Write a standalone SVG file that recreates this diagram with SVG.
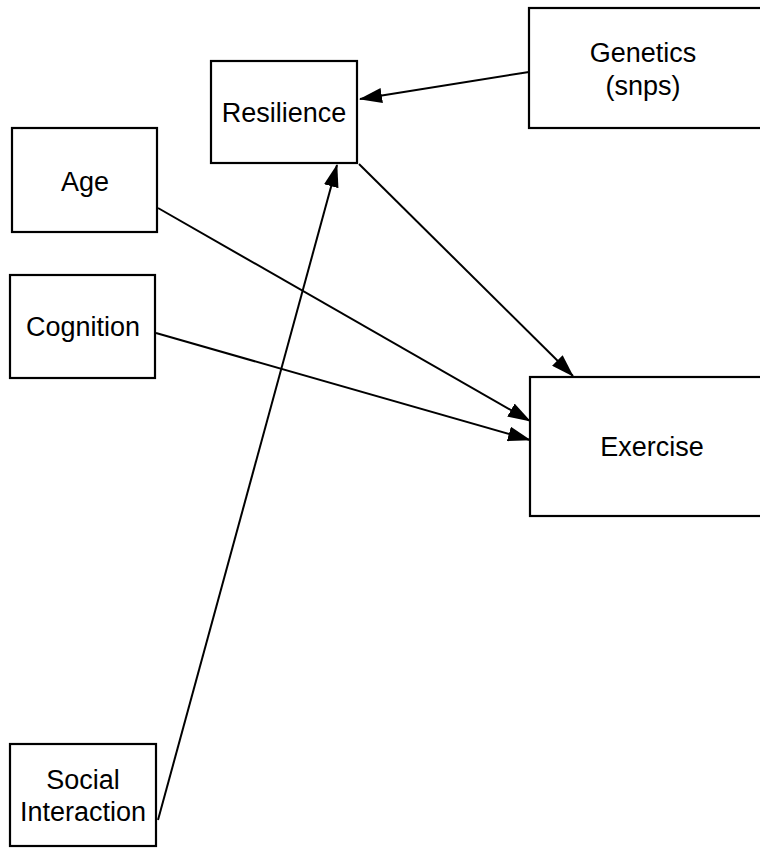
<svg xmlns="http://www.w3.org/2000/svg" width="760" height="850" viewBox="0 0 760 850">
<style>
.box{fill:#fff;stroke:#000;stroke-width:2.2}
.lbl{font-family:"Liberation Sans",Arial,sans-serif;font-size:27px;fill:#000;text-anchor:middle;dominant-baseline:central}
.edge{stroke:#000;stroke-width:2;fill:none;marker-end:url(#ah)}
</style>
<defs>
<marker id="ah" markerUnits="userSpaceOnUse" markerWidth="23" markerHeight="15" refX="22" refY="7.5" orient="auto">
<path d="M0,0 L23,7.5 L0,15 z" fill="#000"/>
</marker>
</defs>
<rect width="760" height="850" fill="#fff"/>
<g id="connectors">
<line class="edge" x1="529" y1="72" x2="360" y2="99"/>
<line class="edge" x1="359" y1="164" x2="573" y2="376"/>
<line class="edge" x1="158" y1="208" x2="530" y2="421"/>
<line class="edge" x1="156" y1="333" x2="530" y2="440"/>
<line class="edge" x1="158" y1="820" x2="337" y2="165"/>
</g>
<g id="resilience"><rect class="box" x="211" y="61" width="146" height="102"/><text class="lbl" x="284" y="113">Resilience</text></g>
<g id="genetics"><rect class="box" x="529" y="8" width="233" height="120"/><text class="lbl" x="643" y="53">Genetics</text><text class="lbl" x="643" y="86">(snps)</text></g>
<g id="age"><rect class="box" x="12" y="128" width="145" height="104"/><text class="lbl" x="85" y="182">Age</text></g>
<g id="cognition"><rect class="box" x="10" y="275" width="145" height="103"/><text class="lbl" x="83" y="327">Cognition</text></g>
<g id="exercise"><rect class="box" x="530" y="377" width="232" height="139"/><text class="lbl" x="652" y="447">Exercise</text></g>
<g id="social"><rect class="box" x="10" y="744" width="146" height="102"/><text class="lbl" x="83" y="780">Social</text><text class="lbl" x="83" y="812">Interaction</text></g>
</svg>
